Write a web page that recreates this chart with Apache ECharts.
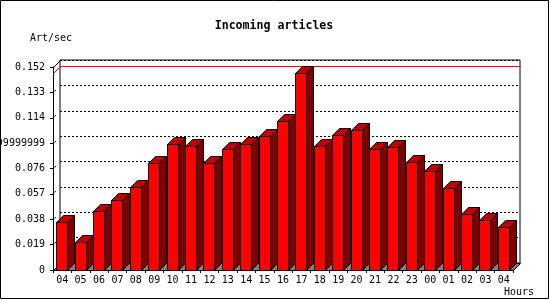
<!DOCTYPE html>
<html><head><meta charset="utf-8">
<script src="https://cdn.jsdelivr.net/npm/echarts@6/dist/echarts.min.js"></script>
<style>html,body{margin:0;padding:0;background:#fff}#c{width:550px;height:300px}</style>
</head><body><div id="c"></div>
<script>
const hours = ['04','05','06','07','08','09','10','11','12','13','14','15','16','17','18','19','20','21','22','23','00','01','02','03','04'];
const articlesPerSec = [0.0357,0.0207,0.0439,0.0522,0.0614,0.0799,0.0941,0.0926,0.0799,0.0904,0.0941,0.1001,0.1113,0.1473,0.0926,0.1009,0.1046,0.0904,0.0919,0.0806,0.0739,0.0612,0.0417,0.0372,0.0320];
const yTickLabels = ['0','0.019','0.038','0.057','0.076','0.09499999999','0.114','0.133','0.152'];
const yMax = 0.152;
const yStep = 0.019;
const titleText = 'Incoming articles';
const yUnit = 'Art/sec';
const xUnit = 'Hours';

const D = 7; // 3D depth in px
const FONT = '"DejaVu Sans Mono", monospace';
const maxVal = Math.max.apply(null, articlesPerSec);
const barData = articlesPerSec.map((v, i) => [i, v]);

function px(v) { return Math.floor(v) + 0.5; }

function renderBar(params, api) {
  const i = api.value(0), v = api.value(1);
  const top = api.coord([i, v]);
  const base = api.coord([i, 0]);
  const band = api.size([1, 0])[0];
  const w = Math.round(band * 0.6);
  const cx = top[0] - D;
  const x1 = px(cx - w / 2), x2 = x1 + w;
  const yT = px(top[1] + D), yB = px(base[1] + D);
  const st = { stroke: '#000', lineWidth: 1 };
  return { type: 'group', children: [
    { type: 'polygon', shape: { points: [[x2, yT], [x2, yB], [x2 + D, yB - D], [x2 + D, yT - D]] }, style: Object.assign({ fill: '#800000' }, st) },
    { type: 'polygon', shape: { points: [[x1, yT], [x2, yT], [x2 + D, yT - D], [x1 + D, yT - D]] }, style: Object.assign({ fill: '#c00000' }, st) },
    { type: 'rect', shape: { x: x1, y: yT, width: w, height: yB - yT }, style: Object.assign({ fill: '#ff0000' }, st) }
  ]};
}

function renderFrame(params, api) {
  const cs = params.coordSys;
  const L = px(cs.x), T = px(cs.y), R = px(cs.x + cs.width), B = px(cs.y + cs.height);
  const yM = px(api.coord([0, maxVal])[1]);
  const ch = [];
  ch.push({ type: 'polygon', shape: { points: [[L - D, B + D], [R - D, B + D], [R, B], [L, B]] }, style: { fill: '#808080', stroke: '#000', lineWidth: 1 } });
  ch.push({ type: 'line', shape: { x1: L - D, y1: T + D, x2: L, y2: T }, style: { stroke: '#000', lineWidth: 1 } });
  for (let k = 1; k < yTickLabels.length - 1; k++) {
    const y = px(api.coord([0, k * yStep])[1]);
    ch.push({ type: 'line', shape: { x1: L - D + 1, y1: y + D - 1, x2: L, y2: y }, style: { stroke: '#000', lineWidth: 1, lineDash: [2, 20] } });
  }
  ch.push({ type: 'line', shape: { x1: L, y1: yM, x2: R, y2: yM }, style: { stroke: '#ff0000', lineWidth: 1 } });
  ch.push({ type: 'line', shape: { x1: L - D, y1: yM + D, x2: L, y2: yM }, style: { stroke: '#ff0000', lineWidth: 1 } });
  return { type: 'group', children: ch };
}

const chart = echarts.init(document.getElementById('c'), null, { renderer: 'canvas' });
chart.setOption({
  animation: false,
  backgroundColor: '#fff',
  textStyle: { fontFamily: FONT },
  grid: [
    { left: 60, right: 30, top: 60, bottom: 37, containLabel: false, outerBoundsMode: 'none', show: true, borderColor: '#000', borderWidth: 1, backgroundColor: 'transparent' },
    { left: 53, right: 37, top: 67, bottom: 30, containLabel: false, outerBoundsMode: 'none' }
  ],
  xAxis: [
    { type: 'category', gridIndex: 0, data: hours, axisLine: { show: false }, axisTick: { show: false }, axisLabel: { show: false }, splitLine: { show: false } },
    { type: 'category', gridIndex: 1, data: hours,
      axisLine: { show: true, lineStyle: { color: '#000', width: 1 } },
      axisTick: { show: true, length: 3, lineStyle: { color: '#000' } },
      axisLabel: { show: true, interval: 0, margin: 5, color: '#000', fontSize: 10, fontFamily: FONT },
      splitLine: { show: false } }
  ],
  yAxis: [
    { type: 'value', gridIndex: 0, min: 0, max: yMax, interval: yStep,
      axisLine: { show: false }, axisTick: { show: false }, axisLabel: { show: false },
      splitLine: { show: true, lineStyle: { color: '#000', width: 1, type: [2, 2] } } },
    { type: 'value', gridIndex: 1, min: 0, max: yMax, interval: yStep,
      axisLine: { show: true, lineStyle: { color: '#000', width: 1 } },
      axisTick: { show: true, length: 3, lineStyle: { color: '#000' } },
      axisLabel: { show: true, margin: 8, color: '#000', fontSize: 10, fontFamily: FONT,
        formatter: (val, idx) => yTickLabels[idx] },
      splitLine: { show: false } }
  ],
  series: [
    { type: 'custom', name: 'frame', xAxisIndex: 0, yAxisIndex: 0, z: 1, clip: false, silent: true,
      data: [[0, 0]], renderItem: renderFrame },
    { type: 'custom', name: titleText, xAxisIndex: 0, yAxisIndex: 0, z: 3, clip: false,
      data: barData, encode: { x: 0, y: 1 }, renderItem: renderBar }
  ],
  graphic: [
    { type: 'rect', shape: { x: 0.5, y: 0.5, width: 548, height: 298 }, style: { fill: 'none', stroke: '#000', lineWidth: 1 }, z: 10 },
    { type: 'text', x: 274, y: 20, style: { text: titleText, font: 'bold 11.6px ' + FONT, fill: '#000', textAlign: 'center', textVerticalAlign: 'top' } },
    { type: 'text', x: 30, y: 33, style: { text: yUnit, font: '10px ' + FONT, fill: '#000', textAlign: 'left', textVerticalAlign: 'top' } },
    { type: 'text', x: 504, y: 287, style: { text: xUnit, font: '10px ' + FONT, fill: '#000', textAlign: 'left', textVerticalAlign: 'top' } }
  ]
});
</script></body></html>
